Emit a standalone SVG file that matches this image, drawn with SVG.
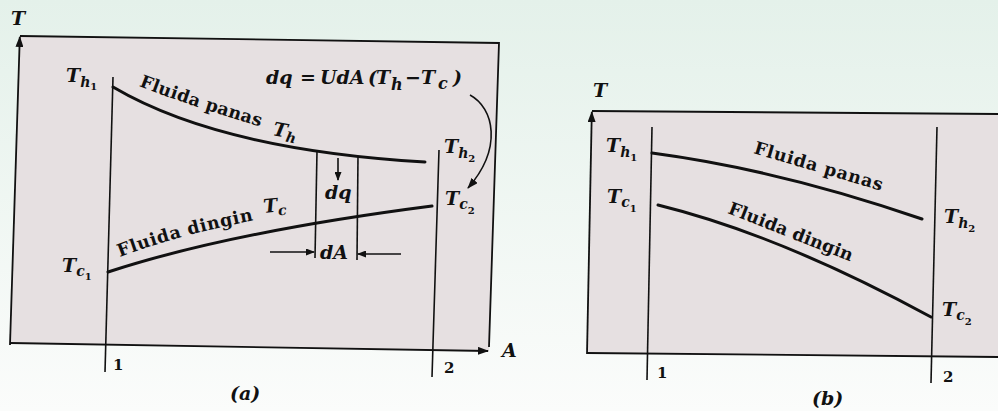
<svg xmlns="http://www.w3.org/2000/svg" width="998" height="411" viewBox="0 0 998 411">
<defs>
<linearGradient id="bg" x1="0" y1="0" x2="0" y2="1">
<stop offset="0" stop-color="#e4f1ea"/>
<stop offset="1" stop-color="#fbfcfb"/>
</linearGradient>
<marker id="ah" markerUnits="userSpaceOnUse" markerWidth="11" markerHeight="8" refX="10" refY="4" orient="auto">
<path d="M0,0 L11,4 L0,8 z" fill="#111"/>
</marker>
<marker id="ahs" markerUnits="userSpaceOnUse" markerWidth="9" markerHeight="7" refX="8" refY="3.5" orient="auto">
<path d="M0,0 L9,3.5 L0,7 z" fill="#111"/>
</marker>
<path id="hpA" d="M139,86 Q200,110 300,138"/>
<path id="cpA" d="M120,257 Q190,230 300,212"/>
<path id="hpB" d="M753,153 L885,192"/>
<path id="cpB" d="M727,213 L862,266"/>
</defs>
<style>
.panel { fill:#e6e0e1; stroke:none; }
.frame { stroke:#111; stroke-width:1.8; fill:none; }
.curve { stroke:#111; stroke-width:3; fill:none; stroke-linecap:round; }
.thin { stroke:#111; stroke-width:1.6; fill:none; }
.it { font-family:"DejaVu Serif","Liberation Serif",serif; font-weight:bold; font-style:italic; font-size:19px; fill:#111; }
.rm { font-family:"DejaVu Serif","Liberation Serif",serif; font-weight:bold; font-size:17.5px; fill:#111; }
.num { font-family:"DejaVu Serif","Liberation Serif",serif; font-weight:bold; font-size:15px; fill:#111; }
.s1 { font-size:14px; }
.s2 { font-size:10px; font-style:normal; }
.fs { font-size:16px; }
</style>
<rect x="0" y="0" width="998" height="411" fill="url(#bg)"/>

<g id="panel-a">
<polygon class="panel" points="20,36 499,43 489,351 10,343"/>
<polyline class="frame" points="489,347 499,43 20,36"/>
<line class="frame" x1="10" y1="345" x2="19.8" y2="37" marker-end="url(#ah)"/>
<line class="frame" x1="10" y1="343" x2="488" y2="351" marker-end="url(#ah)"/>
<line class="thin" x1="113" y1="77" x2="105" y2="372"/>
<line class="thin" x1="439" y1="150" x2="432" y2="377"/>
<text class="it" x="11" y="25" font-size="17">T</text>
<text class="it" x="502" y="357" font-size="17">A</text>
<text class="num" x="113" y="370">1</text>
<text class="num" x="444" y="373">2</text>
<text class="it" x="230" y="400" font-size="16">(a)</text>
</g>

<g id="hot-a">
<path class="curve" d="M113,87 Q220,150 425,162"/>
<text class="rm" letter-spacing="0.2"><textPath href="#hpA">Fluida panas</textPath></text>
<text class="it" transform="translate(272,135) rotate(11)">T<tspan class="s1" dy="4">h</tspan></text>
</g>
<g id="cold-a">
<path class="curve" d="M108,272 Q230,232 432,206"/>
<text class="rm" letter-spacing="0.6"><textPath href="#cpA">Fluida dingin</textPath></text>
<text class="it" transform="translate(264,213) rotate(-6)">T<tspan class="s1" dy="4">c</tspan></text>
</g>

<g id="labels-a">
<text class="it" x="66" y="82">T<tspan class="s1" dy="5">h</tspan><tspan class="s2" dy="3">1</tspan></text>
<text class="it" x="62" y="272">T<tspan class="s1" dy="4">c</tspan><tspan class="s2" dy="4">1</tspan></text>
<text class="it" x="444" y="153">T<tspan class="s1" dy="5">h</tspan><tspan class="s2" dy="4">2</tspan></text>
<text class="it" x="445" y="205">T<tspan class="s1" dy="4">c</tspan><tspan class="s2" dy="5">2</tspan></text>
<text class="it" font-size="18.5" y="84"><tspan x="266">dq</tspan><tspan x="300">=</tspan><tspan x="320">UdA</tspan><tspan x="368">(</tspan><tspan x="376">T</tspan><tspan class="fs" x="391" dy="6">h</tspan><tspan x="405" dy="-6">−</tspan><tspan x="421">T</tspan><tspan class="fs" x="438" dy="5">c</tspan><tspan x="453" dy="-5">)</tspan></text>
</g>

<g id="element-dA">
<line class="thin" x1="317" y1="151" x2="315" y2="258"/>
<line class="thin" x1="358" y1="156" x2="357" y2="260"/>
<line class="thin" x1="338" y1="158" x2="338" y2="180" marker-end="url(#ahs)"/>
<text class="it" x="325" y="199" font-size="16">dq</text>
<line class="thin" x1="270" y1="252" x2="314" y2="252" marker-end="url(#ahs)"/>
<line class="thin" x1="401" y1="254" x2="358" y2="254" marker-end="url(#ahs)"/>
<text class="it" x="320" y="259" font-size="16">dA</text>
</g>

<g id="connectors">
<path class="thin" d="M470,95 C494,108 503,148 468,188" marker-end="url(#ah)"/>
</g>

<g id="panel-b">
<polygon class="panel" points="592,111 998,114 998,357 587,353"/>
<line class="frame" x1="592" y1="111" x2="998" y2="114"/>
<line class="frame" x1="587" y1="354" x2="591.8" y2="112" marker-end="url(#ah)"/>
<line class="frame" x1="587" y1="353" x2="998" y2="357"/>
<line class="thin" x1="652" y1="127" x2="647" y2="380"/>
<line class="thin" x1="937" y1="127" x2="931" y2="383"/>
<text class="it" x="593" y="97" font-size="17">T</text>
<text class="num" x="657" y="378">1</text>
<text class="num" x="943" y="382">2</text>
<text class="it" x="812" y="405" font-size="16">(b)</text>
</g>

<g id="hot-b">
<path class="curve" d="M652,153 Q780,170 922,219"/>
<text class="rm" letter-spacing="0.7"><textPath href="#hpB">Fluida panas</textPath></text>
</g>
<g id="cold-b">
<path class="curve" d="M658,205 Q780,235 931,317"/>
<text class="rm" letter-spacing="0.1"><textPath href="#cpB">Fluida dingin</textPath></text>
</g>

<g id="labels-b">
<text class="it" x="606" y="152">T<tspan class="s1" dy="5">h</tspan><tspan class="s2" dy="4">1</tspan></text>
<text class="it" x="607" y="203">T<tspan class="s1" dy="4">c</tspan><tspan class="s2" dy="5">1</tspan></text>
<text class="it" x="944" y="223">T<tspan class="s1" dy="5">h</tspan><tspan class="s2" dy="4">2</tspan></text>
<text class="it" x="942" y="316">T<tspan class="s1" dy="4">c</tspan><tspan class="s2" dy="5">2</tspan></text>
</g>
</svg>
